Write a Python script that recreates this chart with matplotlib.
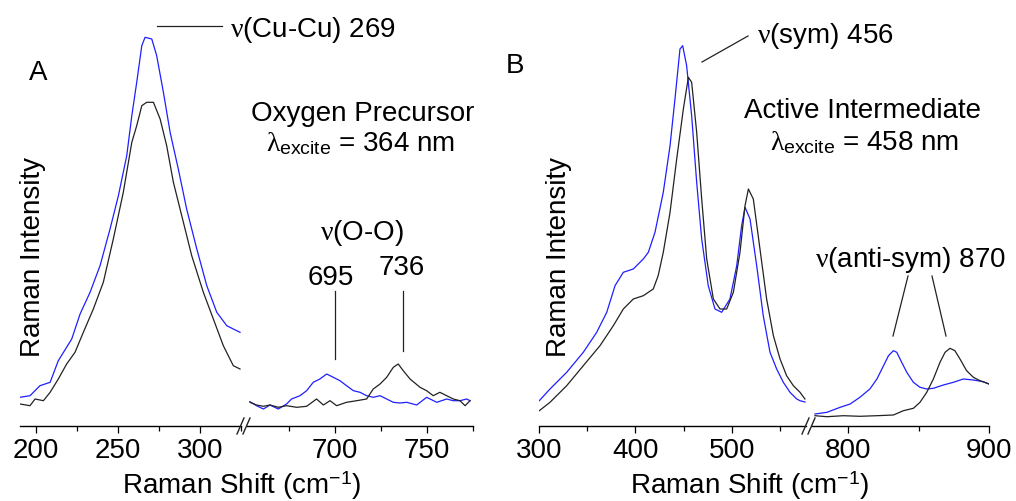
import matplotlib
matplotlib.use("Agg")
import matplotlib.pyplot as plt
from matplotlib.lines import Line2D

plt.rcParams['font.family'] = ['Liberation Sans', 'DejaVu Sans']
plt.rcParams['mathtext.fontset'] = 'custom'
plt.rcParams['mathtext.rm'] = 'Liberation Sans'
plt.rcParams['mathtext.it'] = 'Liberation Serif'
plt.rcParams['mathtext.bf'] = 'Liberation Sans:bold'

# ---------- dados ----------
# Painel A, trecho baixo (Cu-Cu)
a_lo_x_blue = [190.2, 196.3, 202.4, 208.6, 213.6, 221.8, 226.9, 233.0, 239.1, 245.2, 250.3, 255.4,
               258.5, 261.5, 264.6, 266.6, 270.7, 273.7, 277.8, 281.9, 286.9, 292.0, 298.2, 304.3,
               310.4, 316.5, 320.5, 324.6]
a_lo_y_blue = [28.7, 30.3, 40.3, 43.7, 65.3, 87, 112, 133.7, 160.3, 197, 230.3, 270.3,
               310.3, 343.7, 380.3, 388.7, 387, 370.3, 333.7, 293.7, 257, 217, 177, 140.3,
               113.7, 100.3, 97, 93.7]
a_lo_x_black = [190.2, 196.3, 199.4, 204.5, 208.6, 213.6, 218.7, 223.8, 228.9, 235.0, 241.1, 247.2,
                253.3, 258.5, 261.5, 264.6, 267.6, 271.7, 275.8, 279.8, 283.9, 289.0, 295.1, 302.2,
                308.3, 314.4, 320.5, 324.6]
a_lo_y_black = [22, 20.3, 27, 25.3, 33.7, 47, 62, 73.7, 93.7, 117, 143.7, 187,
                233.7, 283.7, 300.3, 320.3, 323.7, 323.7, 307, 280.3, 243.7, 210.3, 170.3, 133.7,
                107, 80.3, 60.3, 57]

# Painel A, trecho alto (O-O)
a_hi_x_blue = [653.8, 657.4, 661.1, 664.7, 669.2, 673.7, 676.4, 681.0, 684.6, 688.2, 691.8, 695.5,
               699.1, 702.7, 706.3, 710.0, 713.6, 717.2, 720.8, 724.5, 728.1, 731.7, 735.3, 739.0,
               744.4, 749.8, 755.3, 760.7, 764.3, 767.9, 771.6, 773.4]
a_hi_y_blue = [24.3, 20.3, 17, 21, 17, 22, 27, 30.3, 35.3, 43.7, 47, 52,
               48.7, 45.3, 40.3, 35.3, 33.7, 30.3, 28.7, 30.3, 27, 23.7, 23, 23.7,
               21, 28.7, 23.7, 27, 25.3, 25.3, 27, 25.3]
a_hi_x_black = [653.8, 657.4, 661.1, 664.7, 669.2, 673.7, 679.2, 684.6, 690.0, 693.7, 697.3, 700.9,
                706.3, 711.8, 717.2, 720.8, 724.5, 728.1, 731.7, 734.4, 737.1, 740.8, 746.2, 749.8,
                753.4, 757.0, 760.7, 764.3, 767.9, 770.7, 773.4]
a_hi_y_black = [23.7, 21, 19.7, 21, 18.7, 20.3, 18.7, 19.7, 27, 21, 25.3, 20.3,
                23.7, 25.3, 27, 37, 42, 48.7, 58.7, 62, 55.3, 47, 38.7, 35.3,
                30.3, 33.7, 30.3, 27, 25.3, 20.3, 25.3]

# Painel B, trecho baixo (sym)
b_lo_x_blue = [300.3, 311.4, 328.7, 345.9, 359.8, 370.2, 378.8, 387.4, 397.7, 408.1, 413.3, 420.2,
               428.8, 435.8, 440.9, 446.1, 448.9, 453.0, 458.2, 463.4, 468.6, 475.4, 482.4, 489.3,
               497.9, 504.9, 510.0, 513.5, 518.7, 525.6, 532.4, 539.4, 546.3, 553.2, 560.1, 567.1,
               570.5, 575.6]
b_lo_y_blue = [25.3, 37, 53.7, 73.7, 93.7, 113.7, 140.3, 153.7, 157, 167, 173.7, 193.7,
               233.7, 280.3, 327, 377, 380.3, 360.3, 310.3, 243.7, 187, 140.3, 117, 113.7,
               127, 160.3, 200.3, 218.7, 207, 160.3, 110.3, 73.7, 57, 43.7, 33.7, 27,
               25.3, 24]
b_lo_x_black = [300.3, 311.4, 328.7, 345.9, 363.2, 377.0, 387.4, 397.7, 408.1, 418.4, 423.5, 428.8,
                435.8, 442.7, 449.6, 454.8, 458.2, 463.4, 468.6, 473.8, 480.7, 487.6, 494.5, 501.4,
                508.3, 513.5, 517.0, 522.1, 529.0, 535.9, 542.9, 549.8, 556.6, 563.6, 570.5, 575.6]
b_lo_y_black = [15.3, 23.7, 40.3, 60.3, 80.3, 100.3, 117, 127, 130.3, 137, 150.3, 173.7,
                213.7, 267, 317, 348.7, 343.7, 293.7, 227, 167, 127, 117, 117, 133.7,
                173.7, 220.3, 237, 227, 177, 127, 90.3, 67, 50.3, 40.3, 33.7, 27]

# Painel B, trecho alto (anti-sym)
b_hi_x_blue = [776.4, 784.9, 794.3, 801.4, 808.3, 815.4, 820.4, 825.1, 828.6, 832.1, 834.5, 838.0,
               841.6, 846.3, 851.0, 855.8, 860.5, 867.6, 874.7, 881.8, 888.9, 896.0, 900.0]
b_hi_y_blue = [12, 13.7, 18.7, 22, 28.7, 37, 47, 60.3, 70.3, 75.3, 73.7, 63.7,
               53.7, 43.7, 38.7, 37, 37.7, 41, 43.7, 47, 46, 44.3, 42]
b_hi_x_black = [776.4, 784.9, 796.7, 808.3, 820.4, 832.1, 839.2, 846.3, 851.0, 855.8, 860.5, 865.2,
                868.8, 872.3, 875.8, 879.4, 884.1, 888.9, 893.6, 900.0]
b_hi_y_black = [10.3, 9.3, 10.3, 9.7, 10.3, 11, 15.3, 17.7, 23.7, 33.7, 47, 63.7,
                73.7, 77.7, 75.3, 67, 55.3, 48.7, 45.3, 42]

AZUL = '#1f1fff'
PRETO = '#222222'
W, H = 1016, 502
FS = 20

def fx(x):
    return x / W

def fy(y):
    return 1 - y / H

fig = plt.figure(figsize=(W / 100, H / 100), dpi=100)

def eixo(x0, x1, xlim, major, minor):
    ax = fig.add_axes([fx(x0), fy(427), (x1 - x0) / W, 400 / H])
    ax.set_xlim(*xlim)
    ax.set_ylim(0, 400)
    for s in ('left', 'top', 'right'):
        ax.spines[s].set_visible(False)
    ax.spines['bottom'].set_linewidth(1.0)
    ax.set_yticks([])
    ax.set_xticks(major)
    ax.set_xticks(minor, minor=True)
    ax.tick_params(axis='x', which='major', direction='out', length=5, width=0.9,
                   labelsize=FS, pad=3)
    ax.tick_params(axis='x', which='minor', direction='out', length=3.5, width=0.9)
    ax.patch.set_visible(False)
    return ax

ax_a1 = eixo(20, 241, (190.2, 325.2), [200, 250, 300], [225, 275, 325])
ax_a2 = eixo(247, 473, (652.2, 775), [700, 750], [675, 725, 775])
ax_b1 = eixo(539, 806, (300, 576.7), [300, 400, 500], [350, 450, 550])
ax_b2 = eixo(812, 989, (774.3, 900), [800, 900], [850])

ax_a1.plot(a_lo_x_blue, a_lo_y_blue, color=AZUL, lw=0.9)
ax_a1.plot(a_lo_x_black, a_lo_y_black, color=PRETO, lw=0.9)
ax_a2.plot(a_hi_x_blue, a_hi_y_blue, color=AZUL, lw=0.9)
ax_a2.plot(a_hi_x_black, a_hi_y_black, color=PRETO, lw=0.9)
ax_b1.plot(b_lo_x_blue, b_lo_y_blue, color=AZUL, lw=0.9)
ax_b1.plot(b_lo_x_black, b_lo_y_black, color=PRETO, lw=0.9)
ax_b2.plot(b_hi_x_blue, b_hi_y_blue, color=AZUL, lw=0.9)
ax_b2.plot(b_hi_x_black, b_hi_y_black, color=PRETO, lw=0.9)

def linha(x0, y0, x1, y1, lw=0.9):
    fig.add_artist(Line2D([fx(x0), fx(x1)], [fy(y0), fy(y1)], color=PRETO, lw=lw))

# quebras do eixo "//"
for xb in (237, 243):
    linha(xb, 435, xb + 7, 419, lw=1.0)
for xb in (802, 808):
    linha(xb, 435, xb + 7, 419, lw=1.0)

def texto(x, y, s, size=FS, ha='center', va='baseline', **kw):
    fig.text(fx(x), fy(y), s, fontsize=size, ha=ha, va=va, color='black', **kw)

# ---------- painel A ----------
texto(38, 80, 'A')
texto(33, 257, 'Raman Intensity', va='center', rotation=90)
texto(242, 494, 'Raman Shift (cm$^{-1}$)')
texto(230, 37, r'$\nu$(Cu-Cu) 269', ha='left')
linha(157, 27, 222, 27)
texto(363, 121, 'Oxygen Precursor')
texto(361, 151, r'$\lambda_{\mathrm{excite}}$ = 364 nm')
texto(362, 240, r'$\nu$(O-O)')
texto(331, 285, '695')
texto(402, 275, '736')
linha(335, 292, 335, 360)
linha(403, 292, 403, 352)

# ---------- painel B ----------
texto(515, 73, 'B')
texto(559, 257, 'Raman Intensity', va='center', rotation=90)
texto(750, 494, 'Raman Shift (cm$^{-1}$)')
texto(757, 43, r'$\nu$(sym) 456', ha='left')
linha(702, 63, 748, 37)
texto(863, 118, 'Active Intermediate')
texto(865, 150, r'$\lambda_{\mathrm{excite}}$ = 458 nm')
texto(815, 267, r'$\nu$(anti-sym) 870', ha='left')
linha(908, 277, 893, 337)
linha(932, 277, 946, 337)

fig.savefig('out.png', dpi=100)
